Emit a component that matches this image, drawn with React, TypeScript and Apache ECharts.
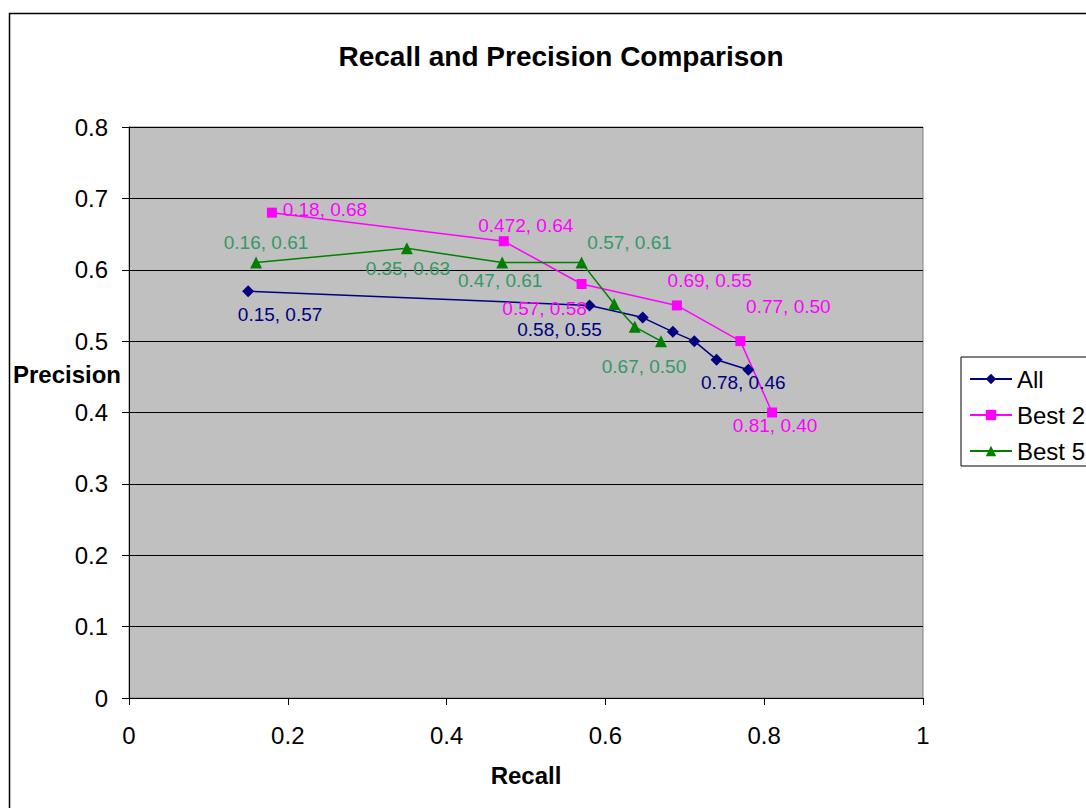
import React, { useEffect, useRef } from "react";
import * as echarts from "echarts";

// Recall / precision pairs for each feature set
const allRecall = [0.15, 0.58, 0.647, 0.685, 0.712, 0.74, 0.78];
const allPrecision = [0.57, 0.55, 0.533, 0.513, 0.5, 0.474, 0.46];

const best2Recall = [0.18, 0.472, 0.57, 0.69, 0.77, 0.81];
const best2Precision = [0.68, 0.64, 0.58, 0.55, 0.5, 0.4];

const best5Recall = [0.16, 0.35, 0.47, 0.57, 0.611, 0.637, 0.67];
const best5Precision = [0.61, 0.63, 0.61, 0.61, 0.552, 0.52, 0.5];

const seriesNames = ["All", "Best 2", "Best 5"];

// Where each point's value label sits, relative to the marker (null = no label)
const allLabelOffsets: ([number, number] | null)[] = [[32, 23], [-30, 24], null, null, null, null, [-5, 13]];
const best2LabelOffsets: ([number, number] | null)[] = [[53, -3], [22, -16], [-37, 24], [33, -25], [48, -35], [3, 13]];
const best5LabelOffsets: ([number, number] | null)[] = [[10, -20], [1, 20], [-2, 18], [48, -20], null, null, [-17, 25]];

const FONT = "Arial, 'Liberation Sans', sans-serif";

const fmt = (v: number) => {
  const dec = (String(v).split(".")[1] || "").length;
  return v.toFixed(Math.max(2, dec));
};

function buildData(xs: number[], ys: number[], offsets: ([number, number] | null)[], color: string) {
  return xs.map((x, i) => {
    const off = offsets[i];
    const item: any = { value: [x, ys[i]] };
    if (off) {
      item.label = {
        show: true,
        position: "inside",
        offset: off,
        formatter: `${fmt(x)}, ${fmt(ys[i])}`,
        color,
        fontSize: 19,
        fontFamily: FONT,
      };
    }
    return item;
  });
}

export default function App() {
  const ref = useRef<HTMLDivElement>(null);

  useEffect(() => {
    if (!ref.current) return;
    const chart = echarts.init(ref.current, undefined, { renderer: "svg" });

    const lineSeries = (
      name: string,
      xs: number[],
      ys: number[],
      offsets: ([number, number] | null)[],
      color: string,
      labelColor: string,
      symbol: string,
      symbolSize: number
    ) => ({
      name,
      type: "line",
      data: buildData(xs, ys, offsets, labelColor),
      symbol,
      symbolSize,
      showAllSymbol: true,
      lineStyle: { color, width: 1.5 },
      itemStyle: { color },
      label: { show: false },
      emphasis: { disabled: true },
      z: 3,
    });

    chart.setOption({
      animation: false,
      backgroundColor: "#ffffff",
      title: {
        text: "Recall and Precision Comparison",
        left: 556,
        top: 37,
        textAlign: "center",
        textStyle: { fontFamily: FONT, fontSize: 28, fontWeight: "bold", color: "#000" },
      },
      grid: {
        left: 129,
        top: 127,
        width: 794,
        height: 571,
        show: true,
        backgroundColor: "#C0C0C0",
        borderColor: "#808080",
        borderWidth: 1,
      },
      legend: {
        left: 961,
        top: 357,
        orient: "vertical",
        data: seriesNames,
        itemWidth: 42,
        itemHeight: 13,
        itemGap: 12,
        padding: [10, 60, 3, 8],
        borderColor: "#000",
        borderWidth: 1,
        backgroundColor: "#fff",
        textStyle: { fontFamily: FONT, fontSize: 24, color: "#000" },
      },
      xAxis: {
        type: "value",
        min: 0,
        max: 1,
        interval: 0.2,
        name: "Recall",
        nameLocation: "middle",
        nameGap: 65,
        nameTextStyle: { fontFamily: FONT, fontSize: 24, fontWeight: "bold", color: "#000" },
        axisLine: { show: true, onZero: false, lineStyle: { color: "#000", width: 1 } },
        axisTick: { show: true, length: 7, lineStyle: { color: "#000" } },
        axisLabel: { margin: 25, fontFamily: FONT, fontSize: 24, color: "#000" },
        splitLine: { show: false },
      },
      yAxis: {
        type: "value",
        min: 0,
        max: 0.8,
        interval: 0.1,
        axisLine: { show: true, onZero: false, lineStyle: { color: "#000", width: 1 } },
        axisTick: { show: true, length: 7, lineStyle: { color: "#000" } },
        axisLabel: { margin: 21, fontFamily: FONT, fontSize: 24, color: "#000" },
        splitLine: { show: true, lineStyle: { color: "#000", width: 1 } },
      },
      graphic: [
        {
          type: "rect",
          shape: { x: 9.5, y: 13.5, width: 1200, height: 900 },
          style: { fill: "none", stroke: "#000", lineWidth: 1.5 },
          silent: true,
          z: 100,
        },
        {
          type: "text",
          x: 121,
          y: 374,
          style: {
            text: "Precision",
            align: "right",
            verticalAlign: "middle",
            font: `bold 24px ${FONT}`,
            fill: "#000",
          },
        },
      ],
      series: [
        lineSeries(seriesNames[0], allRecall, allPrecision, allLabelOffsets, "#000080", "#000080", "diamond", 12),
        lineSeries(seriesNames[1], best2Recall, best2Precision, best2LabelOffsets, "#FF00FF", "#FF00FF", "rect", 10),
        lineSeries(seriesNames[2], best5Recall, best5Precision, best5LabelOffsets, "#008000", "#339966", "triangle", 12),
      ],
    });

    return () => chart.dispose();
  }, []);

  return (
    <div
      ref={ref}
      style={{ position: "fixed", left: 0, top: 0, width: 1086, height: 808 }}
    />
  );
}
